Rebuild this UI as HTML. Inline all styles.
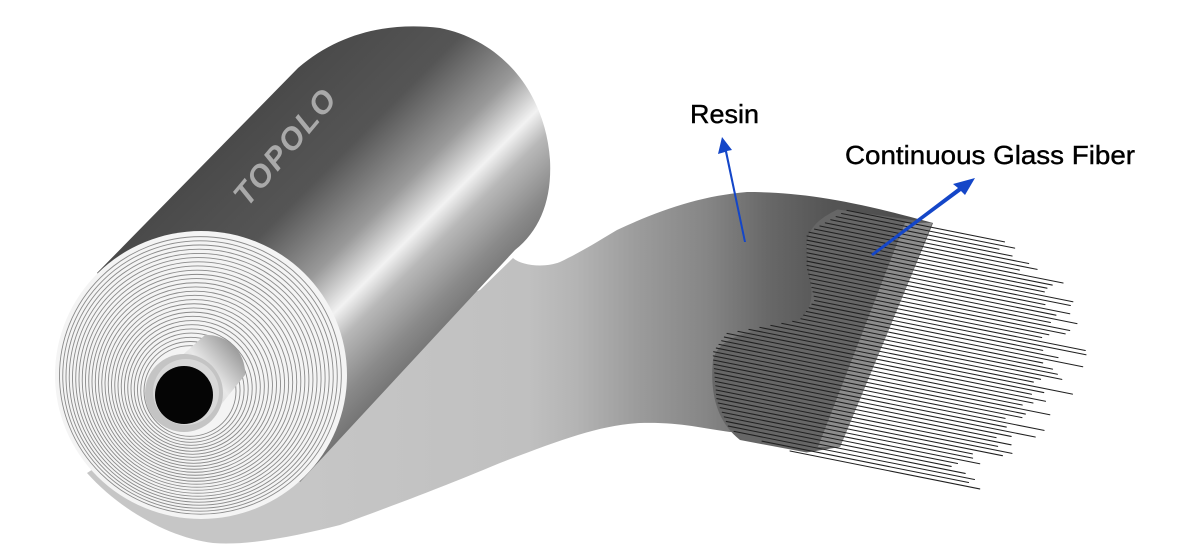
<!DOCTYPE html>
<html><head><meta charset="utf-8"><style>
html,body{margin:0;padding:0;background:#fff;width:1200px;height:560px;overflow:hidden}
svg{display:block}
</style></head><body>
<svg id="s" width="1200" height="560" viewBox="0 0 1200 560" xmlns="http://www.w3.org/2000/svg">
<defs>
<linearGradient id="sheet" x1="0" y1="0" x2="1200" y2="0" gradientUnits="userSpaceOnUse">
<stop offset="0.25" stop-color="#c6c6c6"/><stop offset="0.44" stop-color="#c0c0c0"/>
<stop offset="0.48" stop-color="#b4b4b4"/><stop offset="0.53" stop-color="#9c9c9c"/>
<stop offset="0.59" stop-color="#858585"/><stop offset="0.64" stop-color="#686868"/>
<stop offset="0.69" stop-color="#555"/><stop offset="0.75" stop-color="#4e4e4e"/>
</linearGradient>
<linearGradient id="body" x1="200" y1="170" x2="410" y2="380" gradientUnits="userSpaceOnUse">
<stop offset="0" stop-color="#4a4a4a"/><stop offset="0.3" stop-color="#555"/>
<stop offset="0.52" stop-color="#999"/><stop offset="0.66" stop-color="#f2f2f2"/>
<stop offset="0.74" stop-color="#b8b8b8"/><stop offset="0.88" stop-color="#8a8a8a"/>
<stop offset="1" stop-color="#6e6e6e"/>
</linearGradient>
<linearGradient id="tube" x1="160" y1="400" x2="230" y2="340" gradientUnits="userSpaceOnUse">
<stop offset="0" stop-color="#bdbdbd"/><stop offset="0.6" stop-color="#e8e8e8"/><stop offset="1" stop-color="#9a9a9a"/>
</linearGradient>
<clipPath id="fibclip"><path d="M933,223 L840,447 L700,470 L700,190 Z"/></clipPath>
</defs>

<path d="M200,400 L480,290 L513,258 C522,266 545,268 560,262 C585,250 600,240 617,230 C660,210 700,196 747,192 C800,192 850,200 933,223 L840,447 C800,440 760,434 730,432 C700,428 680,422 640,423 C600,425 560,440 500,463 C440,488 400,503 340,525 C300,535 250,546 213,543 C170,538 120,510 87,473 Z" fill="url(#sheet)"/>
<g clip-path="url(#fibclip)">
<path d="M847,205 C825,215 805,225 807,250 C808,280 820,300 800,320 C770,330 720,330 713,360 C710,390 715,420 740,440 L900,470 L960,200 Z" fill="#666"/>
<path d="M933,223 L840,447 L880,447 L960,223 Z" fill="#aaaaaa"/>
<path d="M905,223 L818,447 L842,447 L932,223 Z" fill="#8c8c8c"/>
</g>
<g id="fib" stroke="#202020" stroke-width="1.05" stroke-linecap="round"></g>

<path d="M97,273 L298,68 C340,32 390,22 440,28 C500,40 545,90 550,160 C552,200 540,230 515,250 L300,482 Z" fill="url(#body)"/>
<ellipse cx="201" cy="375" rx="146" ry="144" fill="#f4f4f4"/>
<g id="rings" fill="none" stroke="#8a8a8a" stroke-width="0.9"></g>
<path d="M160,375 L205,335 A38,38 0 0 1 245,375 L215,412 Z" fill="url(#tube)"/>
<circle cx="184" cy="393" r="39" fill="#c4c4c4"/>
<circle cx="186" cy="392" r="33" fill="#d8d8d8"/>
<circle cx="184" cy="395" r="29" fill="#050505"/>

<text x="0" y="0" transform="translate(287,148) rotate(-50)" text-anchor="middle" dominant-baseline="middle" font-family="Liberation Sans, sans-serif" font-weight="bold" font-style="italic" font-size="31" fill="#a9a9a9" letter-spacing="2">TOPOLO</text>

<path d="M744,242 L725,152 L718,154 L722,137 L732,150 L727,151 L746,242 Z" fill="#1446c8"/>
<path d="M871,254 L958,188 L953,184 L975,178 L965,195 L961,191 L873,256 Z" fill="#1446c8"/>

<text x="690" y="123" font-family="Liberation Sans, sans-serif" font-size="26" fill="#000" stroke="#000" stroke-width="0.4" textLength="69" lengthAdjust="spacingAndGlyphs">Resin</text>
<text x="845" y="164" font-family="Liberation Sans, sans-serif" font-size="26" fill="#000" stroke="#000" stroke-width="0.4" textLength="290" lengthAdjust="spacingAndGlyphs">Continuous Glass Fiber</text>
</svg>
<script>
(function(){
var NS="http://www.w3.org/2000/svg";
var r=document.getElementById("rings");
for(var i=0;i<27;i++){var k=46+i*3.65;var e=document.createElementNS(NS,"ellipse");
e.setAttribute("cx",190+i*0.4);e.setAttribute("cy",391-i*0.6);e.setAttribute("rx",k);e.setAttribute("ry",k*0.985);r.appendChild(e);}
var bx=[[41,847],[72,807],[106,807],[137,815],[160,800],[188,727],[210,713],[257,717],[284,730],[293,790]];
var ex=[[41,1005],[60,1035],[100,1070],[150,1060],[200,1040],[250,1000],[293,957]];
function interp(a,c){for(var j=0;j<a.length-1;j++){if(c<=a[j+1][0]){var t=(c-a[j][0])/(a[j+1][0]-a[j][0]);return a[j][1]+t*(a[j+1][1]-a[j][1]);}}return a[a.length-1][1];}
var seed=7;function rnd(){seed=(seed*9301+49297)%233280;return seed/233280;}
var g=document.getElementById("fib");
for(var c=41;c<=293;c+=4.2){var x0=interp(bx,c),x1=interp(ex,c)+(rnd()-0.5)*50;
var l=document.createElementNS(NS,"line");l.setAttribute("x1",x0);l.setAttribute("y1",c+0.2*x0);
l.setAttribute("x2",x1);l.setAttribute("y2",c+0.2*x1);g.appendChild(l);}
})();
</script>
</body></html>
